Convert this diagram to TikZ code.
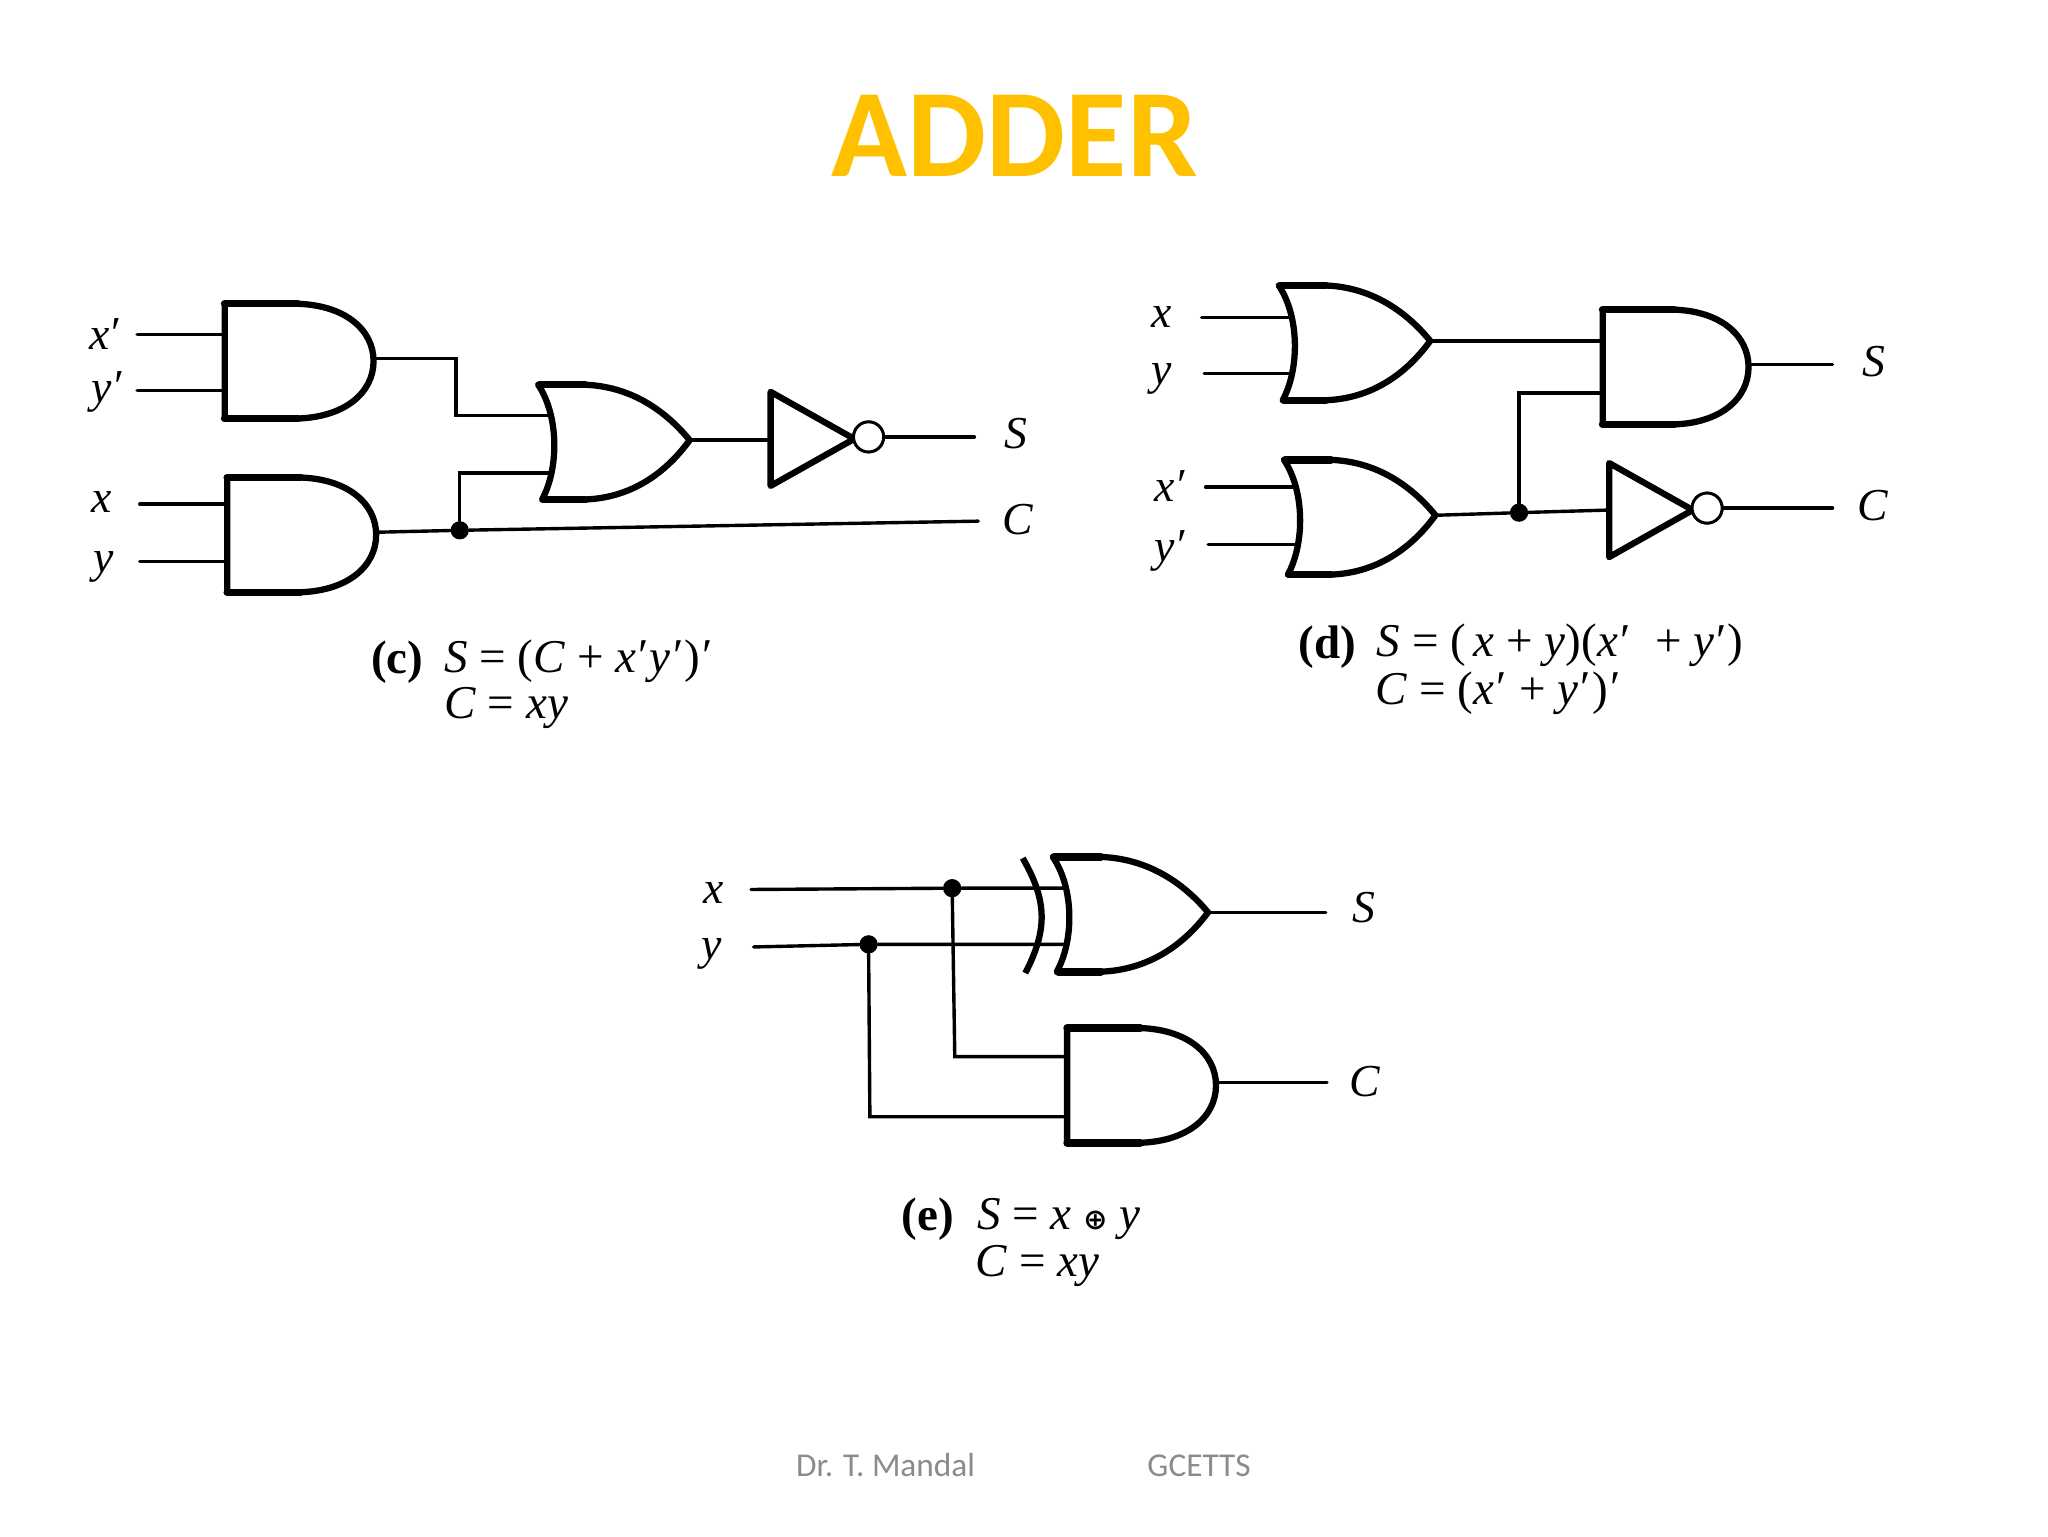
\documentclass[tikz,border=0pt]{standalone}
\usepackage{fontspec}
\setmainfont{Liberation Serif}
\newfontfamily\diagfont{Liberation Serif}
\newfontfamily\titlefont{Carlito}
\newfontfamily\symfont{DejaVu Sans}
\definecolor{titlegold}{HTML}{FFC000}
\definecolor{footgray}{HTML}{8B8B8B}
\newcommand{\pr}{\raisebox{0.02em}{\upshape\kern0.05em′\kern0.02em}}
\tikzset{
  x=1pt,y=-1pt,
  wire/.style={line width=2.6pt,line cap=round,line join=miter},
  gateline/.style={line width=4.8pt,line join=round,fill=white},
  gatebar/.style={line width=5.8pt,line cap=round},
  junction/.style={circle,fill=black,inner sep=0pt,minimum size=14pt},
  bubble/.style={circle,draw,fill=white,line width=2.2pt,inner sep=0pt,minimum size=23pt},
  sig/.style={font=\diagfont\fontsize{35}{35}\selectfont\itshape,inner sep=0pt},
  captag/.style={font=\diagfont\bfseries\fontsize{36}{36}\selectfont,anchor=base west,inner sep=0pt},
  eqn/.style={font=\diagfont\fontsize{36}{36}\selectfont,anchor=base west,inner sep=0pt},
  andgate/.pic={
    \draw[gateline] (0,-44) -- (52,-44) .. controls (92,-44) and (114,-24) .. (114,0)
      .. controls (114,24) and (92,44) .. (52,44) -- (0,44) -- cycle;
    \draw[gatebar] (0,-44) -- (56,-44) (0,44) -- (56,44);
    \coordinate (-a) at (0,-22); \coordinate (-b) at (0,22); \coordinate (-o) at (114,-2);
  },
  orgate/.pic={
    \draw[gateline] (0,-44) -- (32,-44) .. controls (68,-44) and (96,-26) .. (116,-1.5)
      .. controls (96,26) and (68,44) .. (32,44) -- (3,44) .. controls (16,20) and (16,-20) .. (0,-44) -- cycle;
    \draw[gatebar] (1,-44) -- (36,-44) (4,44) -- (36,44);
    \coordinate (-a) at (10,-22); \coordinate (-b) at (10,22); \coordinate (-o) at (116,-1.5);
  },
  invgate/.pic={
    \draw[gateline] (0,-36) -- (64,0) -- (0,36) -- cycle;
    \coordinate (-i) at (0,0);
    \node[bubble] (-n) at (75,-1.5) {};
  },
}
\begin{document}
\begin{tikzpicture}
\useasboundingbox (0,0) rectangle (1568,1176);
\node[font=\titlefont\bfseries\fontsize{96}{96}\selectfont,text=titlegold,inner sep=0pt] (title) at (777,104) {ADDER};
\node[font=\titlefont\fontsize{25.5}{25.5}\selectfont,text=footgray,inner sep=0pt] (foota) at (678,1122) {Dr. T. Mandal};
\node[font=\titlefont\fontsize{25.5}{25.5}\selectfont,text=footgray,inner sep=0pt] (footb) at (918,1122) {GCETTS};

% free wire ends
\foreach \n/\x/\y in {
  ca/105/256,cb/105/299,cc/107/386,cd/107/430,cs/746/335,cc2/749/399,
  da/920/243,db/922/286,dc/923/373,dd/925/417,ds/1403/278,dcc/1403/388,
  ex/575/681,ey/577/725,es/1015/695,ecc/1016/828,
  cu1/349/275,cu2/349/318,cv/351/362,
  dv/1163/301,
  ev1/731/809,ev2/666/855}
  \coordinate (\n) at (\x,\y);

% ---- circuit c
\node[junction] (cj) at (352,406) {};
\pic (c1) at (172,276.5) {andgate};
\pic (c2) at (174,409.5) {andgate};
\pic (c3) at (412,338.5) {orgate};
\pic (c4) at (590,336) {invgate};
\draw[wire] (ca) -- (ca-|c1-a);
\draw[wire] (cb) -- (cb-|c1-b);
\draw[wire] (cc) -- (cc-|c2-a);
\draw[wire] (cd) -- (cd-|c2-b);
\draw[wire] (c1-o) -- (c1-o-|cu1) -- (cu2) -- (cu2-|c3-a);
\draw[wire] (c2-o) -- (cj) -- (cc2);
\draw[wire] (cj) -- (cv-|cj) -- (cv-|c3-b);
\draw[wire] (c3-o) -- (c3-o-|c4-i);
\draw[wire] (c4-n) -- (c4-n-|cs);
\node[bubble] at (c4-n) {};
\node[sig] (lc1) at (81,256) {x\pr};
\node[sig] (lc2) at (83,300) {y\pr};
\node[sig] (lc3) at (78,384) {x};
\node[sig] (lc4) at (79,434) {y};
\node[sig] (lc5) at (778,332) {S};
\node[sig] (lc6) at (779,398) {C};
\node[captag] (capc) at (284,516) {(c)};
\node[eqn] (eqc1) at (340,515) {\textit{S} = (\textit{C} + \textit{x}\pr\textit{y}\pr)\pr};
\node[eqn] (eqc2) at (340,550) {\textit{C} = \textit{xy}};

% ---- circuit d
\node[junction] (dj) at (1163,392.5) {};
\pic (d1) at (979,262.5) {orgate};
\pic (d2) at (983,396) {orgate};
\pic[xscale=0.98] (d3) at (1227,281) {andgate};
\pic (d4) at (1232,390.5) {invgate};
\draw[wire] (da) -- (da-|d1-a);
\draw[wire] (db) -- (db-|d1-b);
\draw[wire] (dc) -- (dc-|d2-a);
\draw[wire] (dd) -- (dd-|d2-b);
\draw[wire] (d1-o) -- (d1-o-|d3-a);
\draw[wire] (d3-o) -- (d3-o-|ds);
\draw[wire] (d2-o) -- (dj) -- (d4-i);
\draw[wire] (dj) -- (dv-|dj) -- (dv-|d3-b);
\draw[wire] (d4-n) -- (d4-n-|dcc);
\node[bubble] at (d4-n) {};
\node[sig] (ld1) at (889,243) {x};
\node[sig] (ld2) at (889,290) {y};
\node[sig] (ld3) at (897,372) {x\pr};
\node[sig] (ld4) at (897,422) {y\pr};
\node[sig] (ld5) at (1435,277) {S};
\node[sig] (ld6) at (1434,387) {C};
\node[captag] (capd) at (994,504) {(d)};
\node[eqn] (eqd1) at (1054,503) {\textit{S} = (\,\textit{x} + \textit{y})(\textit{x}\pr\ \ + \textit{y}\pr)};
\node[eqn] (eqd2) at (1053,539) {\textit{C} = (\textit{x}\pr\ + \textit{y}\pr)\pr};

% ---- circuit e
\node[junction] (ej1) at (729,680) {};
\node[junction] (ej2) at (665,723) {};
\draw[line width=4.8pt] (783,657) .. controls (802,690) and (802,712) .. (785,745) coordinate (exor);
\pic[xscale=1.025] (e1) at (806,700) {orgate};
\pic (e2) at (817,831) {andgate};
\draw[wire] (ex) -- (ej1) -- (ej1-|e1-a);
\draw[wire] (ey) -- (ej2) -- (ej2-|e1-b);
\draw[wire] (e1-o) -- (e1-o-|es);
\draw[wire] (ej1) -- (ev1) -- (ev1-|e2-a);
\draw[wire] (ej2) -- (ev2) -- (ev2-|e2-b);
\draw[wire] (e2-o) -- (e2-o-|ecc);
\node[sig] (le1) at (546,684) {x};
\node[sig] (le2) at (545,730) {y};
\node[sig] (le3) at (1044,695) {S};
\node[sig] (le4) at (1045,828) {C};
\node[captag] (cape) at (690,942) {(e)};
\node[eqn] (eqe1) at (748,941) {\textit{S} = \textit{x} {\symfont\bfseries\fontsize{22}{22}\selectfont ⊕} \textit{y}};
\node[eqn] (eqe2) at (747,977) {\textit{C} = \textit{xy}};
\end{tikzpicture}
\end{document}
